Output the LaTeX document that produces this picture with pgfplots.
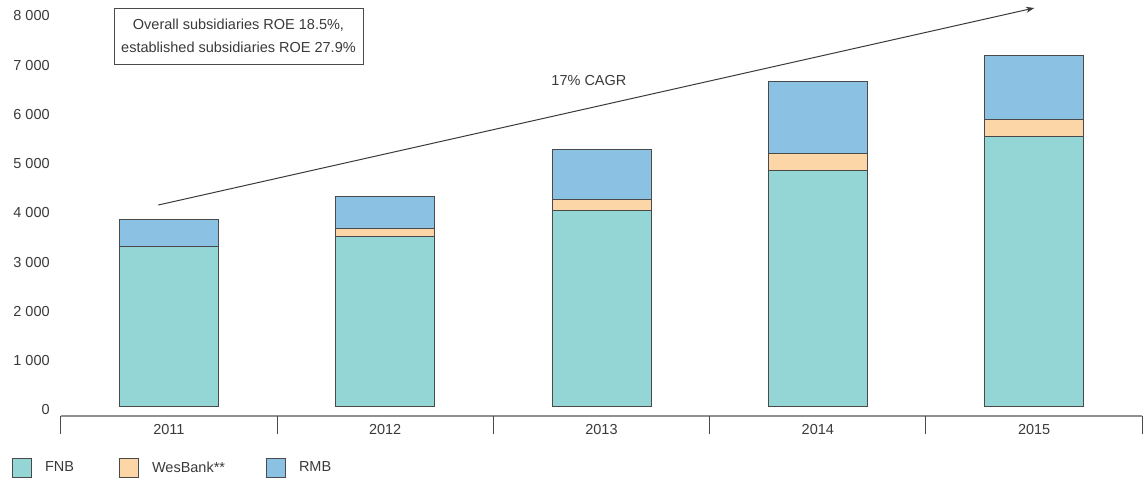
\documentclass[border=0pt]{standalone}
\usepackage{fontspec}
\setmainfont{Liberation Sans}
\usepackage{pgfplots}
\pgfplotsset{compat=1.18}
\usetikzlibrary{arrows.meta}
\definecolor{fnb}{HTML}{94D5D6}
\definecolor{wes}{HTML}{FDD6A8}
\definecolor{rmb}{HTML}{8BC1E2}
\definecolor{txt}{HTML}{3A3A3A}
\definecolor{edge}{HTML}{4A4A4A}
\definecolor{axgray}{HTML}{909090}
\pgfplotsset{sqlegend/.style={legend image code/.code={\draw[##1] (0pt,-5.7pt) rectangle (11.4pt,5.7pt);}}}
\begin{document}
\begin{tikzpicture}
\useasboundingbox (0,0) rectangle (685.8pt,286.8pt);
\begin{axis}[
  at={(36.42pt,37.2pt)}, anchor=south west,
  scale only axis, width=648.96pt, height=248.31pt,
  xmin=-0.5, xmax=4.5, ymin=-203, ymax=8200,
  clip=false,
  ybar stacked, bar width=59.4pt,
  axis lines*=left,
  y axis line style={draw=none},
  x axis line style={draw=axgray, line width=1pt},
  ytick={0,1000,2000,3000,4000,5000,6000,7000,8000},
  yticklabels={0,1 000,2 000,3 000,4 000,5 000,6 000,7 000,8 000},
  ytick style={draw=none},
  yticklabel style={anchor=east, inner sep=0pt, xshift=-6.4pt, yshift=-2.4pt},
  xtick={0,1,2,3,4},
  xticklabels={2011,2012,2013,2014,2015},
  major tick length=0pt,
  xticklabel style={anchor=north, inner sep=0pt, yshift=-4.8pt},
  extra x ticks={-0.5,0.5,1.5,2.5,3.5,4.5},
  extra x tick labels={},
  extra x tick style={major tick length=10.8pt, tick align=outside, tick style={draw=edge, line width=0.6pt}},
  tick label style={font=\fontsize{8.7pt}{10pt}\selectfont, text=txt},
  /pgf/number format/assume math mode=true,
  legend columns=3,
  legend style={at={(-0.045,-0.1257)}, anchor=west, draw=none, fill=none,
    inner sep=0pt, outer sep=0pt,
    nodes={inner sep=0pt, font=\fontsize{8.7pt}{10pt}\selectfont, text=txt},
    /tikz/every odd column/.append style={column sep=7.8pt},
    /tikz/every even column/.append style={column sep=0pt}},
]
\addplot[fill=fnb, draw=edge, line width=0.6pt, sqlegend] coordinates {(0,3235) (1,3432) (2,3966) (3,4786) (4,5462)};
\addlegendentry[text width=44.4pt]{FNB}
\addplot[fill=wes, draw=edge, line width=0.6pt, sqlegend] coordinates {(0,0) (1,182) (2,217) (3,337) (4,351)};
\addlegendentry[text width=68.4pt]{WesBank**}
\addplot[fill=rmb, draw=edge, line width=0.6pt, sqlegend] coordinates {(0,556) (1,630) (2,1021) (3,1456) (4,1294)};
\addlegendentry{RMB}
\draw[txt, line width=0.6pt, -{Stealth[length=5pt,width=3.6pt]}] (axis cs:-0.0488,4081) -- (axis cs:4.0007,8081);
\node[font=\fontsize{8.7pt}{10pt}\selectfont, text=txt] at (axis cs:1.942,6599) {17\% CAGR};
\node[draw=edge, line width=0.5pt, fill=white, minimum width=149.4pt, minimum height=33.6pt, align=center, inner sep=0pt, font=\fontsize{8.7pt}{14pt}\selectfont, text=txt] at (axis cs:0.3219,7513) {Overall subsidiaries ROE 18.5\%,\\established subsidiaries ROE 27.9\%};
\end{axis}
\end{tikzpicture}
\end{document}
